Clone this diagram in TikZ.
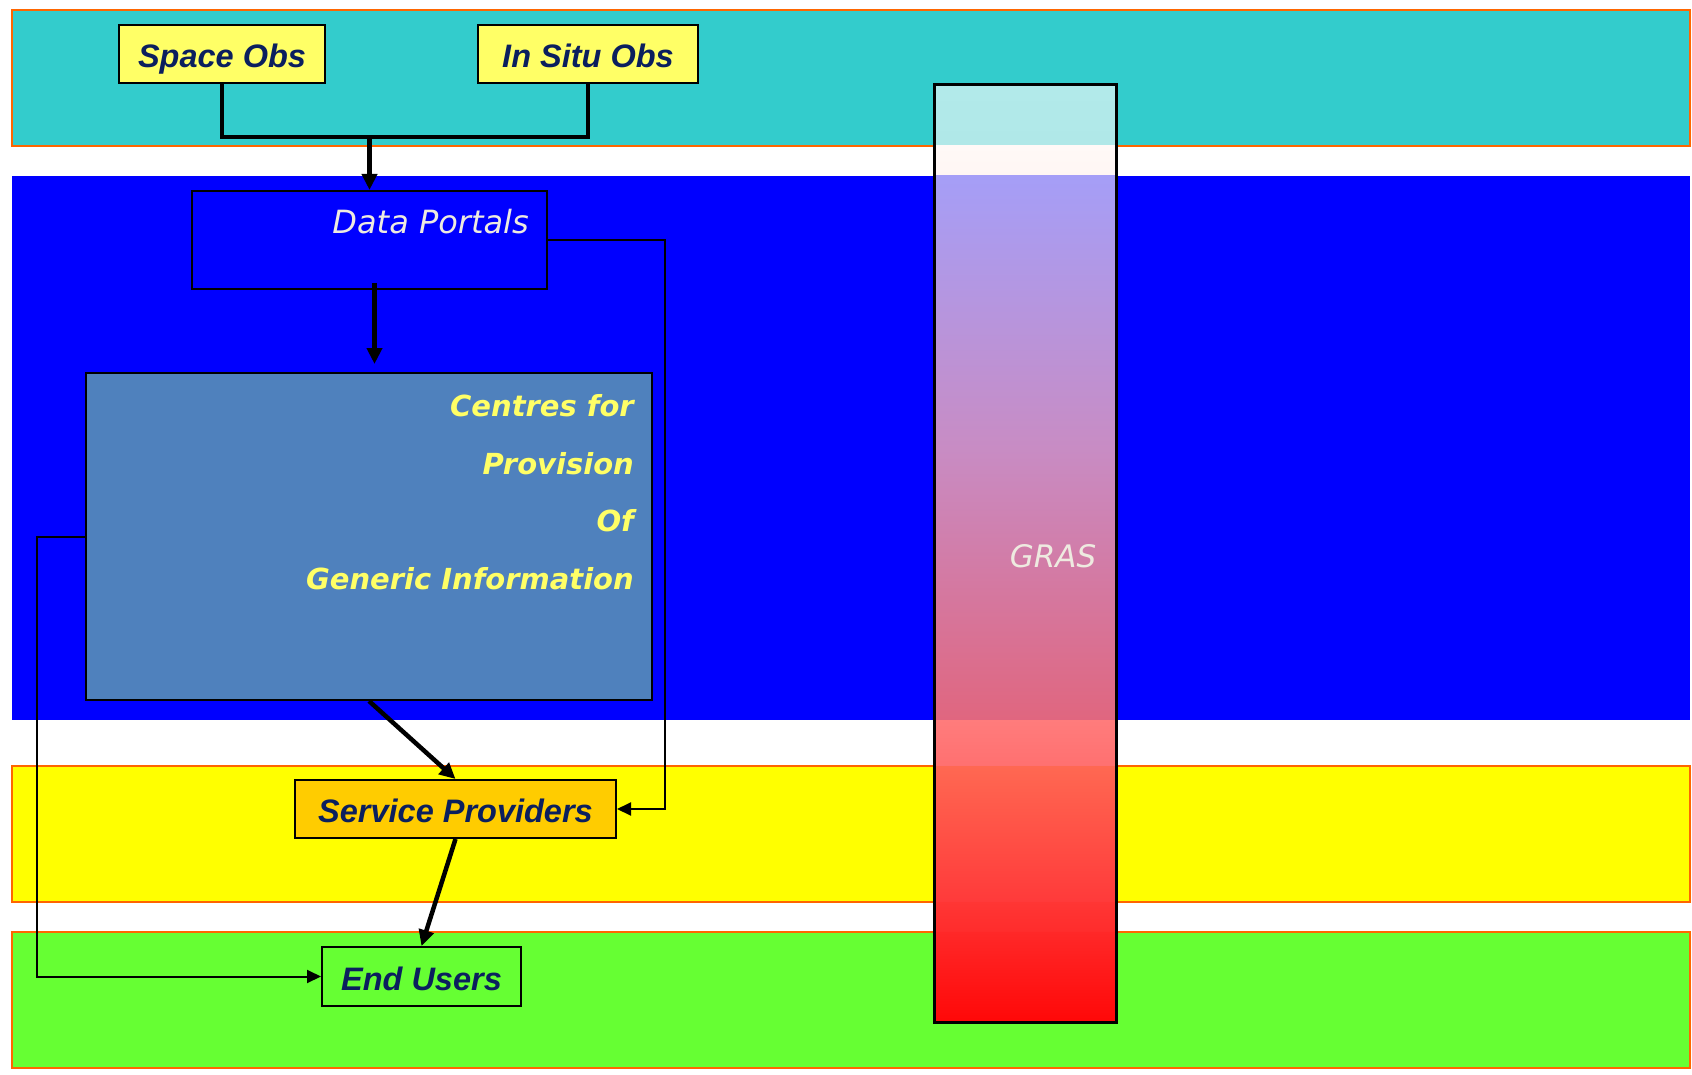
\documentclass[tikz,border=0pt]{standalone}
\usepackage{fontspec}
\setmainfont{Liberation Sans}
\newfontfamily\verd{DejaVu Sans}
\usetikzlibrary{arrows.meta,calc}
\definecolor{bandcyan}{HTML}{33CCCC}
\definecolor{bandblue}{HTML}{0000FF}
\definecolor{bandyellow}{HTML}{FFFF00}
\definecolor{bandgreen}{HTML}{66FF33}
\definecolor{bandedge}{HTML}{FF6600}
\definecolor{navytext}{HTML}{0B1F5E}
\definecolor{paletext}{HTML}{EEEAE0}
\definecolor{lightyel}{HTML}{FFFF66}
\definecolor{steel}{HTML}{4F81BD}
\definecolor{spfill}{HTML}{FFCC00}
\tikzset{
  band/.style={fill=#1, draw=bandedge, line width=1.5pt},
  boxbase/.style={draw=black, line width=2pt, inner sep=0pt},
  navylabel/.style={text=navytext, font=\fontsize{32.5}{38}\selectfont\bfseries\itshape, text height=30pt, text depth=3pt},
  thickarrow/.style={line width=4.5pt, -{Triangle[length=16pt,width=15pt]}},
  thickline/.style={line width=4.5pt},
  thinarrow/.style={line width=2pt, -{Triangle[length=14pt,width=13pt]}},
}
\begin{document}
\begin{tikzpicture}[x=1pt,y=-1pt]
\useasboundingbox (0,0) rectangle (1692,1075);
\fill[white] (0,0) rectangle (1692,1075);
% bands
\filldraw[band=bandcyan] (12,10) rectangle (1690,146);
\fill[bandblue] (12,176) rectangle (1690,720);
\filldraw[band=bandyellow] (12,766) rectangle (1690,902);
\filldraw[band=bandgreen] (12,932) rectangle (1690,1068);
% GRAS bar segments
\fill[top color={rgb,255:red,178;green,234;blue,234}, bottom color={rgb,255:red,176;green,232;blue,232}] (934,85) rectangle (1116,146);
\fill[top color={rgb,255:red,255;green,249;blue,247}, bottom color={rgb,255:red,255;green,246;blue,244}] (934,146) rectangle (1116,176);
\fill[top color={rgb,255:red,165;green,158;blue,247}, bottom color={rgb,255:red,224;green,102;blue,127}, middle color={rgb,255:red,200;green,140;blue,196}] (934,176) rectangle (1116,720);
\fill[top color={rgb,255:red,255;green,124;blue,124}, bottom color={rgb,255:red,255;green,112;blue,112}] (934,720) rectangle (1116,766);
\fill[top color={rgb,255:red,255;green,104;blue,82}, bottom color={rgb,255:red,255;green,58;blue,58}] (934,766) rectangle (1116,902);
\fill[top color={rgb,255:red,255;green,54;blue,52}, bottom color={rgb,255:red,255;green,44;blue,44}] (934,902) rectangle (1116,932);
\fill[top color={rgb,255:red,255;green,40;blue,40}, bottom color={rgb,255:red,255;green,8;blue,8}] (934,932) rectangle (1116,1022);
\node[draw=black, line width=3pt, minimum width=182pt, minimum height=937pt, inner sep=0pt] (gras) at (1025,553.5) {};
\node[text=paletext, font=\fontsize{31}{36}\selectfont\verd\itshape] (grastext) at (1053,556) {GRAS};
% boxes
\node[boxbase, fill=lightyel, minimum width=206pt, minimum height=58pt, navylabel] (so) at (222,54) {Space Obs};
\node[boxbase, fill=lightyel, minimum width=220pt, minimum height=58pt, navylabel] (iso) at (588,54) {In Situ Obs};
\node[boxbase, fill=bandblue, minimum width=355pt, minimum height=98pt] (dp) at (369.5,240) {};
\node[text=paletext, font=\fontsize{32}{38}\selectfont\verd\itshape, anchor=east, inner sep=0pt] (dptext) at (529,222) {Data Portals};
\node[boxbase, fill=steel, minimum width=566pt, minimum height=327pt] (cpgi) at (369,536.5) {};
\node[text=lightyel, font=\fontsize{29}{57.5}\selectfont\verd\bfseries\itshape, align=right, anchor=east, inner sep=0pt] (cpgitext) at (634,492) {Centres for\\Provision\\Of\\Generic Information};
\node[boxbase, fill=spfill, minimum width=321pt, minimum height=58pt, navylabel] (sp) at (455.5,809) {Service Providers};
\node[boxbase, fill=bandgreen, minimum width=199pt, minimum height=59pt, navylabel] (eu) at (421.5,976.5) {End Users};
% thick connectors
\draw[thickline] (so.south) -- ++(0,53) -| (iso.south);
\coordinate (join) at (dp.north |- 0,136);
\draw[thickarrow] (join) -- (dp.north);
\coordinate (dpstart) at ($(dp.south)+(5,-7)$);
\coordinate (cpgiend) at ($(dpstart |- cpgi.north)+(0,-8)$);
\draw[thickarrow] (dpstart) -- (cpgiend);
\draw[thickarrow] (cpgi.south) -- (sp.north);
\draw[thickarrow] (sp.south) -- (eu.north);
% thin connectors
\draw[thinarrow] (dp.east) -- ++(117,0) |- (sp.east);
\draw[thinarrow] (cpgi.west) -- ++(-48,0) |- (eu.west);
\end{tikzpicture}
\end{document}
